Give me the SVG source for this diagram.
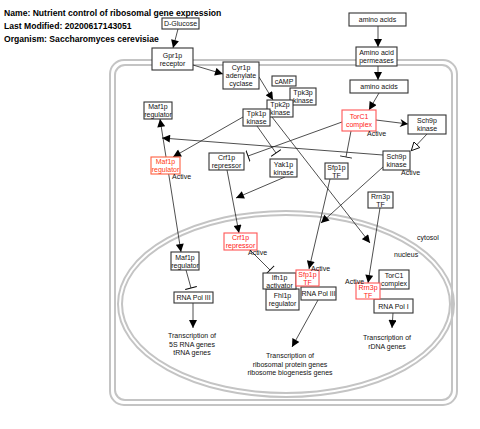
<svg xmlns="http://www.w3.org/2000/svg" width="480" height="429" viewBox="0 0 480 429">
<defs>
<style>
.t{font-family:"Liberation Sans",Arial,sans-serif;font-size:7px;fill:#111;text-anchor:middle}
.h{font-family:"Liberation Sans",Arial,sans-serif;font-size:8.6px;font-weight:bold;fill:#000}
.a{font-family:"Liberation Sans",Arial,sans-serif;font-size:7px;fill:#111}
.n rect{fill:#fff;stroke:#333;stroke-width:1.1}
.r rect{fill:#fff;stroke:#ff5555;stroke-width:1.1}
.r text{fill:#ff2020}
.o rect{fill:#fff;stroke:#ff6040;stroke-width:1.1}
.o text{fill:#ff3a10}
.m{fill:none;stroke:#c4c4c4;stroke-width:2}
.c path{fill:none;stroke:#222;stroke-width:0.8}
</style>
<marker id="arr" viewBox="0 0 10 10" refX="10" refY="5" markerWidth="9" markerHeight="8" markerUnits="userSpaceOnUse" orient="auto-start-reverse"><path d="M0,0 L10,5 L0,10 z" fill="#000"/></marker>
<marker id="open" viewBox="0 0 10 10" refX="10" refY="5" markerWidth="10" markerHeight="9" markerUnits="userSpaceOnUse" orient="auto"><path d="M0.5,0.5 L9.5,5 L0.5,9.5 z" fill="#fff" stroke="#000" stroke-width="1"/></marker>
<marker id="chev" viewBox="0 0 10 10" refX="10" refY="5" markerWidth="9" markerHeight="8" markerUnits="userSpaceOnUse" orient="auto"><path d="M0,0 L10,5 L0,10 L3,5 z" fill="#000"/></marker>
<marker id="tbar" viewBox="0 0 4 12" refX="2" refY="6" markerWidth="4" markerHeight="12" markerUnits="userSpaceOnUse" orient="auto"><path d="M2,0 L2,12" stroke="#000" stroke-width="1"/></marker>
</defs>
<rect width="480" height="429" fill="#fff"/>

<g id="title">
<text class="h" x="4" y="16">Name: Nutrient control of ribosomal gene expression</text>
<text class="h" x="4" y="29">Last Modified: 20200617143051</text>
<text class="h" x="4" y="42">Organism: Saccharomyces cerevisiae</text>
</g>

<g id="cell">
<rect class="m" x="110" y="60" width="347" height="345" rx="14"/>
<rect class="m" x="115" y="65" width="337" height="335" rx="10"/>
</g>
<g id="nucleus-membrane">
<ellipse class="m" cx="286" cy="304" rx="168" ry="93"/>
<ellipse class="m" cx="286" cy="304" rx="164" ry="89"/>
</g>
<text class="a" x="417" y="240">cytosol</text>
<text class="a" x="394" y="257">nucleus</text>

<g id="connectors" class="c">
<path d="M178,29 L173,48" marker-end="url(#arr)"/>
<path d="M193,65 L223,74" marker-end="url(#arr)"/>
<path d="M259,77 L273,100" marker-end="url(#arr)"/>
<path d="M378,26 L378,47" marker-end="url(#arr)"/>
<path d="M378,66 L378,80" marker-end="url(#arr)"/>
<path d="M379,93 L369,110" marker-end="url(#arr)"/>
<path d="M376,120 L408,124" marker-end="url(#chev)"/>
<path d="M427,134 L411,151" marker-end="url(#open)"/>
<path d="M383,155 L162,138" marker-end="url(#arr)"/>
<path d="M160,119 L181,252" marker-start="url(#arr)" marker-end="url(#arr)"/>
<path d="M243,117 L173,157" marker-end="url(#arr)"/>
<path d="M257,126 L276,153" marker-end="url(#tbar)"/>
<path d="M272,117 L370,243" marker-end="url(#arr)"/>
<path d="M342,122 L248,156" marker-end="url(#tbar)"/>
<path d="M351,131 L346,157" marker-end="url(#tbar)"/>
<path d="M227,170 L239,233" marker-end="url(#arr)"/>
<path d="M285,177 L236,198" marker-end="url(#arr)"/>
<path d="M250,250 L270,270" marker-end="url(#tbar)"/>
<path d="M186,270 L191,288" marker-end="url(#tbar)"/>
<path d="M193,303 L193,328" marker-end="url(#arr)"/>
<path d="M318,300 L292,347" marker-end="url(#arr)"/>
<path d="M393,313 L392,328" marker-end="url(#arr)"/>
<path d="M383,167 L321,223" marker-end="url(#arr)"/>
<path d="M330,179 L309,269" marker-end="url(#arr)"/>
<path d="M380,208 L368,283" marker-end="url(#arr)"/>
</g>

<g id="d-glucose" class="n"><rect x="162" y="18" width="37" height="11"/><text class="t" x="180.5" y="26">D-Glucose</text></g>
<g id="gpr1p" class="n"><rect x="152" y="48" width="41" height="22"/><text class="t" x="172.5" y="57.5">Gpr1p</text><text class="t" x="172.5" y="65.5">receptor</text></g>
<g id="cyr1p" class="n"><rect x="223" y="62" width="36" height="27"/><text class="t" x="241" y="70">Cyr1p</text><text class="t" x="241" y="78">adenylate</text><text class="t" x="241" y="86">cyclase</text></g>
<g id="camp" class="n"><rect x="272" y="76" width="24" height="10"/><text class="t" x="284" y="83.5">cAMP</text></g>
<g id="tpk3p" class="n"><rect x="290" y="88" width="26" height="17"/><text class="t" x="303" y="95">Tpk3p</text><text class="t" x="303" y="103">kinase</text></g>
<g id="tpk2p" class="n"><rect x="267" y="100" width="26" height="17"/><text class="t" x="280" y="107">Tpk2p</text><text class="t" x="280" y="115">kinase</text></g>
<g id="tpk1p" class="n"><rect x="243" y="109" width="27" height="17"/><text class="t" x="256.5" y="116">Tpk1p</text><text class="t" x="256.5" y="124">kinase</text></g>
<g id="maf1p-cyto" class="n"><rect x="144" y="102" width="28" height="17"/><text class="t" x="158" y="109">Maf1p</text><text class="t" x="158" y="117">regulator</text></g>
<g id="maf1p-active" class="o"><rect x="151" y="157" width="29" height="17"/><text class="t" x="165.5" y="164">Maf1p</text><text class="t" x="165.5" y="171.5">regulator</text></g>
<text class="a" x="172" y="179">Active</text>
<g id="crf1p-cyto" class="n"><rect x="209" y="153" width="35" height="17"/><text class="t" x="226.5" y="160">Crf1p</text><text class="t" x="226.5" y="168">repressor</text></g>
<g id="yak1p" class="n"><rect x="270" y="159" width="27" height="18"/><text class="t" x="283.5" y="166.5">Yak1p</text><text class="t" x="283.5" y="174.5">kinase</text></g>
<g id="sfp1p-cyto" class="n"><rect x="325" y="163" width="23" height="16"/><text class="t" x="336.5" y="169.5">Sfp1p</text><text class="t" x="336.5" y="177.5">TF</text></g>
<g id="torc1-active" class="r"><rect x="342" y="110" width="34" height="21"/><text class="t" x="359" y="119">TorC1</text><text class="t" x="359" y="127">complex</text></g>
<text class="a" x="367" y="135.5">Active</text>
<g id="sch9p-a" class="n"><rect x="408" y="115" width="38" height="19"/><text class="t" x="427" y="123">Sch9p</text><text class="t" x="427" y="131">kinase</text></g>
<g id="sch9p-b" class="n"><rect x="383" y="151" width="27" height="19"/><text class="t" x="396.5" y="159">Sch9p</text><text class="t" x="396.5" y="167">kinase</text></g>
<text class="a" x="401" y="174.5">Active</text>
<g id="rrn3p-cyto" class="n"><rect x="368" y="192" width="25" height="16"/><text class="t" x="380.5" y="198.5">Rrn3p</text><text class="t" x="380.5" y="206.5">TF</text></g>
<g id="amino-acids-out" class="n"><rect x="349" y="13" width="57" height="13"/><text class="t" x="377.5" y="22">amino acids</text></g>
<g id="permeases" class="n"><rect x="356" y="47" width="41" height="19"/><text class="t" x="376.5" y="55">Amino acid</text><text class="t" x="376.5" y="63">permeases</text></g>
<g id="amino-acids-in" class="n"><rect x="350" y="80" width="58" height="13"/><text class="t" x="379" y="89">amino acids</text></g>
<g id="crf1p-active" class="r"><rect x="224" y="233" width="33" height="17"/><text class="t" x="240.5" y="240">Crf1p</text><text class="t" x="240.5" y="248">repressor</text></g>
<text class="a" x="248" y="255">Active</text>
<g id="maf1p-nuc" class="n"><rect x="171" y="252" width="28" height="18"/><text class="t" x="185" y="259.5">Maf1p</text><text class="t" x="185" y="267.5">regulator</text></g>
<g id="rna-pol-iii-a" class="n"><rect x="174" y="292" width="39" height="11"/><text class="t" x="193.5" y="300">RNA Pol III</text></g>
<g id="fhl1p" class="n"><rect x="266" y="289" width="33" height="21"/><text class="t" x="282.5" y="298">Fhl1p</text><text class="t" x="282.5" y="306">regulator</text></g>
<g id="ifh1p" class="n"><rect x="263" y="273" width="33" height="16"/><text class="t" x="279.5" y="279.5">Ifh1p</text><text class="t" x="279.5" y="287.5">activator</text></g>
<g id="rna-pol-iii-b" class="n"><rect x="301" y="287" width="35" height="13"/><text class="t" x="318.5" y="296">RNA Pol III</text></g>
<g id="sfp1p-active" class="r"><rect x="296" y="270" width="23" height="16"/><text class="t" x="307.5" y="277">Sfp1p</text><text class="t" x="307.5" y="284.5">TF</text></g>
<text class="a" x="311" y="270.5">Active</text>
<g id="torc1-nuc" class="n"><rect x="379" y="270" width="30" height="19"/><text class="t" x="394" y="278">TorC1</text><text class="t" x="394" y="286">complex</text></g>
<g id="rna-pol-i" class="n"><rect x="374" y="299" width="39" height="14"/><text class="t" x="393.5" y="308.5">RNA Pol I</text></g>
<g id="rrn3p-active" class="r"><rect x="356" y="283" width="24" height="16"/><text class="t" x="368" y="290">Rrn3p</text><text class="t" x="368" y="297.5">TF</text></g>
<text class="a" x="345" y="283.5">Active</text>

<g id="out-5s">
<text class="t" x="192" y="338">Transcription of</text>
<text class="t" x="192" y="346.5">5S RNA genes</text>
<text class="t" x="192" y="355">tRNA genes</text>
</g>
<g id="out-rp">
<text class="t" x="290" y="358">Transcription of</text>
<text class="t" x="290" y="366.5">ribosomal protein genes</text>
<text class="t" x="290" y="375">ribosome biogenesis genes</text>
</g>
<g id="out-rdna">
<text class="t" x="387" y="340">Transcription of</text>
<text class="t" x="387" y="348.5">rDNA genes</text>
</g>
</svg>
